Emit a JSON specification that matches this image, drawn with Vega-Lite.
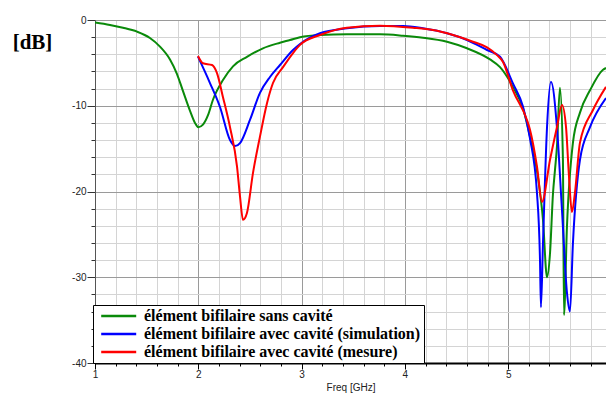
{
  "$schema": "https://vega.github.io/schema/vega-lite/v6.json",
  "width": 511,
  "height": 343,
  "autosize": {"type": "none"},
  "padding": {"left": 95, "top": 20, "right": 0, "bottom": 30},
  "background": "white",
  "config": {"view": {"stroke": null}},
  "data": {"values": [
    {"f":1.0,"db":-0.3,"s":"élément bifilaire sans cavité"},
    {"f":1.145,"db":-0.58,"s":"élément bifilaire sans cavité"},
    {"f":1.271,"db":-0.9,"s":"élément bifilaire sans cavité"},
    {"f":1.407,"db":-1.36,"s":"élément bifilaire sans cavité"},
    {"f":1.532,"db":-2.1,"s":"élément bifilaire sans cavité"},
    {"f":1.629,"db":-3.1,"s":"élément bifilaire sans cavité"},
    {"f":1.726,"db":-4.6,"s":"élément bifilaire sans cavité"},
    {"f":1.794,"db":-6.3,"s":"élément bifilaire sans cavité"},
    {"f":1.852,"db":-8.3,"s":"élément bifilaire sans cavité"},
    {"f":1.92,"db":-10.6,"s":"élément bifilaire sans cavité"},
    {"f":1.968,"db":-12.0,"s":"élément bifilaire sans cavité"},
    {"f":2.0,"db":-12.5,"s":"élément bifilaire sans cavité"},
    {"f":2.045,"db":-12.2,"s":"élément bifilaire sans cavité"},
    {"f":2.094,"db":-11.1,"s":"élément bifilaire sans cavité"},
    {"f":2.142,"db":-9.3,"s":"élément bifilaire sans cavité"},
    {"f":2.239,"db":-7.0,"s":"élément bifilaire sans cavité"},
    {"f":2.336,"db":-5.4,"s":"élément bifilaire sans cavité"},
    {"f":2.471,"db":-4.3,"s":"élément bifilaire sans cavité"},
    {"f":2.626,"db":-3.3,"s":"élément bifilaire sans cavité"},
    {"f":2.791,"db":-2.65,"s":"élément bifilaire sans cavité"},
    {"f":2.888,"db":-2.33,"s":"élément bifilaire sans cavité"},
    {"f":2.985,"db":-2.0,"s":"élément bifilaire sans cavité"},
    {"f":3.178,"db":-1.75,"s":"élément bifilaire sans cavité"},
    {"f":3.439,"db":-1.67,"s":"élément bifilaire sans cavité"},
    {"f":3.759,"db":-1.67,"s":"élément bifilaire sans cavité"},
    {"f":3.982,"db":-1.83,"s":"élément bifilaire sans cavité"},
    {"f":4.175,"db":-2.06,"s":"élément bifilaire sans cavité"},
    {"f":4.408,"db":-2.53,"s":"élément bifilaire sans cavité"},
    {"f":4.601,"db":-3.3,"s":"élément bifilaire sans cavité"},
    {"f":4.824,"db":-4.6,"s":"élément bifilaire sans cavité"},
    {"f":4.921,"db":-5.5,"s":"élément bifilaire sans cavité"},
    {"f":5.046,"db":-7.8,"s":"élément bifilaire sans cavité"},
    {"f":5.143,"db":-10.3,"s":"élément bifilaire sans cavité"},
    {"f":5.211,"db":-13.6,"s":"élément bifilaire sans cavité"},
    {"f":5.288,"db":-18.3,"s":"élément bifilaire sans cavité"},
    {"f":5.337,"db":-23.3,"s":"élément bifilaire sans cavité"},
    {"f":5.376,"db":-30.0,"s":"élément bifilaire sans cavité"},
    {"f":5.405,"db":-27.2,"s":"élément bifilaire sans cavité"},
    {"f":5.434,"db":-20.2,"s":"élément bifilaire sans cavité"},
    {"f":5.453,"db":-17.5,"s":"élément bifilaire sans cavité"},
    {"f":5.472,"db":-14.8,"s":"élément bifilaire sans cavité"},
    {"f":5.501,"db":-7.9,"s":"élément bifilaire sans cavité"},
    {"f":5.53,"db":-16.3,"s":"élément bifilaire sans cavité"},
    {"f":5.54,"db":-34.4,"s":"élément bifilaire sans cavité"},
    {"f":5.569,"db":-24.1,"s":"élément bifilaire sans cavité"},
    {"f":5.627,"db":-14.3,"s":"élément bifilaire sans cavité"},
    {"f":5.695,"db":-10.8,"s":"élément bifilaire sans cavité"},
    {"f":5.792,"db":-8.2,"s":"élément bifilaire sans cavité"},
    {"f":5.918,"db":-5.8,"s":"élément bifilaire sans cavité"},
    {"f":5.947,"db":-5.6,"s":"élément bifilaire sans cavité"},
    {"f":1.997,"db":-4.28,"s":"élément bifilaire avec cavité (simulation)"},
    {"f":2.113,"db":-7.35,"s":"élément bifilaire avec cavité (simulation)"},
    {"f":2.21,"db":-10.15,"s":"élément bifilaire avec cavité (simulation)"},
    {"f":2.307,"db":-14.0,"s":"élément bifilaire avec cavité (simulation)"},
    {"f":2.355,"db":-14.7,"s":"élément bifilaire avec cavité (simulation)"},
    {"f":2.404,"db":-14.35,"s":"élément bifilaire avec cavité (simulation)"},
    {"f":2.5,"db":-11.66,"s":"élément bifilaire avec cavité (simulation)"},
    {"f":2.597,"db":-8.5,"s":"élément bifilaire avec cavité (simulation)"},
    {"f":2.694,"db":-6.65,"s":"élément bifilaire avec cavité (simulation)"},
    {"f":2.791,"db":-5.25,"s":"élément bifilaire avec cavité (simulation)"},
    {"f":2.917,"db":-3.5,"s":"élément bifilaire avec cavité (simulation)"},
    {"f":2.985,"db":-2.8,"s":"élément bifilaire avec cavité (simulation)"},
    {"f":3.178,"db":-1.55,"s":"élément bifilaire avec cavité (simulation)"},
    {"f":3.439,"db":-0.97,"s":"élément bifilaire avec cavité (simulation)"},
    {"f":3.759,"db":-0.7,"s":"élément bifilaire avec cavité (simulation)"},
    {"f":3.982,"db":-0.7,"s":"élément bifilaire avec cavité (simulation)"},
    {"f":4.175,"db":-0.97,"s":"élément bifilaire avec cavité (simulation)"},
    {"f":4.408,"db":-1.55,"s":"élément bifilaire avec cavité (simulation)"},
    {"f":4.601,"db":-2.33,"s":"élément bifilaire avec cavité (simulation)"},
    {"f":4.795,"db":-3.5,"s":"élément bifilaire avec cavité (simulation)"},
    {"f":4.921,"db":-4.28,"s":"élément bifilaire avec cavité (simulation)"},
    {"f":5.046,"db":-7.4,"s":"élément bifilaire avec cavité (simulation)"},
    {"f":5.143,"db":-10.1,"s":"élément bifilaire avec cavité (simulation)"},
    {"f":5.211,"db":-13.8,"s":"élément bifilaire avec cavité (simulation)"},
    {"f":5.279,"db":-20.2,"s":"élément bifilaire avec cavité (simulation)"},
    {"f":5.308,"db":-28.0,"s":"élément bifilaire avec cavité (simulation)"},
    {"f":5.317,"db":-33.5,"s":"élément bifilaire avec cavité (simulation)"},
    {"f":5.337,"db":-26.0,"s":"élément bifilaire avec cavité (simulation)"},
    {"f":5.376,"db":-12.5,"s":"élément bifilaire avec cavité (simulation)"},
    {"f":5.414,"db":-7.2,"s":"élément bifilaire avec cavité (simulation)"},
    {"f":5.472,"db":-12.5,"s":"élément bifilaire avec cavité (simulation)"},
    {"f":5.521,"db":-22.2,"s":"élément bifilaire avec cavité (simulation)"},
    {"f":5.569,"db":-31.8,"s":"élément bifilaire avec cavité (simulation)"},
    {"f":5.598,"db":-34.0,"s":"élément bifilaire avec cavité (simulation)"},
    {"f":5.627,"db":-26.0,"s":"élément bifilaire avec cavité (simulation)"},
    {"f":5.695,"db":-16.3,"s":"élément bifilaire avec cavité (simulation)"},
    {"f":5.792,"db":-12.5,"s":"élément bifilaire avec cavité (simulation)"},
    {"f":5.947,"db":-9.1,"s":"élément bifilaire avec cavité (simulation)"},
    {"f":1.997,"db":-4.2,"s":"élément bifilaire avec cavité (mesure)"},
    {"f":2.045,"db":-5.05,"s":"élément bifilaire avec cavité (mesure)"},
    {"f":2.133,"db":-5.25,"s":"élément bifilaire avec cavité (mesure)"},
    {"f":2.181,"db":-6.2,"s":"élément bifilaire avec cavité (mesure)"},
    {"f":2.239,"db":-9.0,"s":"élément bifilaire avec cavité (mesure)"},
    {"f":2.307,"db":-12.5,"s":"élément bifilaire avec cavité (mesure)"},
    {"f":2.375,"db":-17.1,"s":"élément bifilaire avec cavité (mesure)"},
    {"f":2.404,"db":-20.6,"s":"élément bifilaire avec cavité (mesure)"},
    {"f":2.433,"db":-23.3,"s":"élément bifilaire avec cavité (mesure)"},
    {"f":2.471,"db":-22.5,"s":"élément bifilaire avec cavité (mesure)"},
    {"f":2.53,"db":-17.8,"s":"élément bifilaire avec cavité (mesure)"},
    {"f":2.597,"db":-13.6,"s":"élément bifilaire avec cavité (mesure)"},
    {"f":2.665,"db":-9.7,"s":"élément bifilaire avec cavité (mesure)"},
    {"f":2.723,"db":-7.35,"s":"élément bifilaire avec cavité (mesure)"},
    {"f":2.82,"db":-5.5,"s":"élément bifilaire avec cavité (mesure)"},
    {"f":2.917,"db":-3.85,"s":"élément bifilaire avec cavité (mesure)"},
    {"f":2.985,"db":-2.9,"s":"élément bifilaire avec cavité (mesure)"},
    {"f":3.178,"db":-1.75,"s":"élément bifilaire avec cavité (mesure)"},
    {"f":3.439,"db":-0.9,"s":"élément bifilaire avec cavité (mesure)"},
    {"f":3.759,"db":-0.66,"s":"élément bifilaire avec cavité (mesure)"},
    {"f":4.078,"db":-0.9,"s":"élément bifilaire avec cavité (mesure)"},
    {"f":4.272,"db":-1.17,"s":"élément bifilaire avec cavité (mesure)"},
    {"f":4.466,"db":-1.75,"s":"élément bifilaire avec cavité (mesure)"},
    {"f":4.659,"db":-2.53,"s":"élément bifilaire avec cavité (mesure)"},
    {"f":4.795,"db":-3.2,"s":"élément bifilaire avec cavité (mesure)"},
    {"f":4.892,"db":-4.1,"s":"élément bifilaire avec cavité (mesure)"},
    {"f":4.95,"db":-4.9,"s":"élément bifilaire avec cavité (mesure)"},
    {"f":5.046,"db":-8.2,"s":"élément bifilaire avec cavité (mesure)"},
    {"f":5.182,"db":-11.66,"s":"élément bifilaire avec cavité (mesure)"},
    {"f":5.211,"db":-12.8,"s":"élément bifilaire avec cavité (mesure)"},
    {"f":5.279,"db":-17.1,"s":"élément bifilaire avec cavité (mesure)"},
    {"f":5.327,"db":-21.2,"s":"élément bifilaire avec cavité (mesure)"},
    {"f":5.405,"db":-16.3,"s":"élément bifilaire avec cavité (mesure)"},
    {"f":5.472,"db":-12.5,"s":"élément bifilaire avec cavité (mesure)"},
    {"f":5.521,"db":-9.9,"s":"élément bifilaire avec cavité (mesure)"},
    {"f":5.56,"db":-12.5,"s":"élément bifilaire avec cavité (mesure)"},
    {"f":5.589,"db":-18.3,"s":"élément bifilaire avec cavité (mesure)"},
    {"f":5.617,"db":-22.4,"s":"élément bifilaire avec cavité (mesure)"},
    {"f":5.646,"db":-20.2,"s":"élément bifilaire avec cavité (mesure)"},
    {"f":5.695,"db":-14.3,"s":"élément bifilaire avec cavité (mesure)"},
    {"f":5.821,"db":-10.5,"s":"élément bifilaire avec cavité (mesure)"},
    {"f":5.947,"db":-7.8,"s":"élément bifilaire avec cavité (mesure)"}
  ]},
  "mark": {"type": "line", "strokeWidth": 2, "clip": true, "interpolate": "monotone"},
  "encoding": {
    "x": {
      "field": "f", "type": "quantitative",
      "scale": {"domain": [1, 5.947], "nice": false, "zero": false},
      "axis": {
        "values": [1,1.2,1.4,1.6,1.8,2,2.2,2.4,2.6,2.8,3,3.2,3.4,3.6,3.8,4,4.2,4.4,4.6,4.8,5,5.2,5.4,5.6,5.8],
        "labelExpr": "datum.value % 1 === 0 ? toString(datum.value) : ''",
        "grid": true,
        "gridColor": {"condition": {"test": "datum.value % 1 === 0", "value": "#9a9a9a"}, "value": "#d4d4d4"},
        "gridWidth": 1,
        "tickSize": {"condition": {"test": "datum.value % 1 === 0", "value": 6}, "value": 3},
        "tickColor": "#000",
        "domainColor": "#000",
        "domainWidth": 2,
        "labelFont": "Liberation Sans",
        "labelFontSize": 10,
        "labelColor": "#222",
        "labelPadding": 0,
        "labelFlush": false,
        "labelOverlap": false,
        "title": "Freq [GHz]",
        "titleFont": "Liberation Sans",
        "titleFontSize": 10,
        "titleFontWeight": "normal",
        "titleColor": "#222",
        "titlePadding": 3
      }
    },
    "y": {
      "field": "db", "type": "quantitative",
      "scale": {"domain": [-40, 0], "nice": false, "zero": false},
      "axis": {
        "values": [-40,-38,-36,-34,-32,-30,-28,-26,-24,-22,-20,-18,-16,-14,-12,-10,-8,-6,-4,-2,0],
        "labelExpr": "datum.value % 10 === 0 ? toString(datum.value) : ''",
        "grid": true,
        "gridColor": {"condition": {"test": "datum.value % 10 === 0", "value": "#9a9a9a"}, "value": "#d4d4d4"},
        "gridWidth": 1,
        "tickSize": {"condition": {"test": "datum.value % 10 === 0", "value": 8}, "value": 4},
        "tickColor": "#333",
        "domainColor": "#555",
        "domainWidth": 1,
        "labelFont": "Liberation Sans",
        "labelFontSize": 10,
        "labelColor": "#222",
        "labelPadding": 1,
        "labelFlush": false,
        "labelOverlap": false,
        "title": "[dB]",
        "titleAngle": 0,
        "titleFont": "Liberation Serif",
        "titleFontSize": 21,
        "titleFontWeight": "bold",
        "titleColor": "#000",
        "titleAlign": "center",
        "titleBaseline": "alphabetic",
        "titleX": -63,
        "titleY": 28
      }
    },
    "color": {
      "field": "s", "type": "nominal",
      "scale": {
        "domain": ["élément bifilaire sans cavité", "élément bifilaire avec cavité (simulation)", "élément bifilaire avec cavité (mesure)"],
        "range": ["#0a8a0a", "#0000ff", "#ff0000"]
      },
      "legend": {
        "orient": "none",
        "legendX": -2,
        "legendY": 285,
        "title": null,
        "symbolType": "M-0.8,0H9.2",
        "symbolSize": 49,
        "symbolStrokeWidth": 2.5,
        "labelFont": "Liberation Serif",
        "labelFontWeight": "bold",
        "labelFontSize": 16,
        "labelColor": "#000",
        "labelOffset": 32,
        "labelLimit": 400,
        "fillColor": "white",
        "strokeColor": "#000",
        "padding": 3,
        "rowPadding": 2
      }
    }
  }
}
